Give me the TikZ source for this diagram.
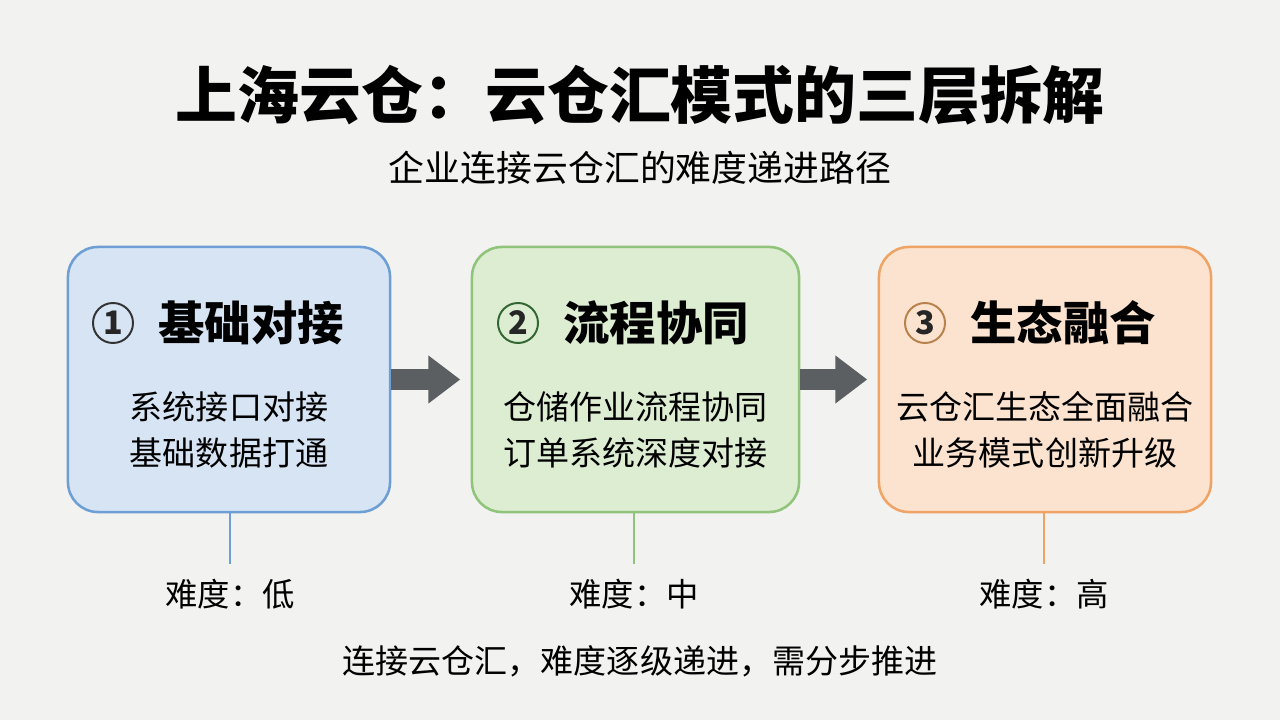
\documentclass[tikz,border=0pt]{standalone}
\usepackage{fontspec}
\setmainfont{Noto Sans CJK SC}
\usepackage{xcolor}
\usetikzlibrary{arrows.meta,positioning}

\definecolor{paper}{HTML}{F2F2F1}
\definecolor{arrowgray}{HTML}{5B5F62}
\definecolor{blueline}{HTML}{6E9FD4}
\definecolor{bluefill}{HTML}{D6E4F4}
\definecolor{greenline}{HTML}{8FC47A}
\definecolor{greenfill}{HTML}{DDEDD2}
\definecolor{orangeline}{HTML}{EFA466}
\definecolor{orangefill}{HTML}{FBE3CF}

\begin{document}
\begin{tikzpicture}[x=0.025cm, y=-0.025cm,
  stage/.style={rounded corners=0.75cm, line width=1.8pt, minimum height=6.625cm},
  numring/.style={circle, line width=1.4pt, minimum size=1cm, inner sep=0pt, text=black!85,
    font=\fontsize{23}{23}\selectfont\bfseries},
  head/.style={inner sep=0pt, anchor=west, font=\fontsize{33}{33}\selectfont\bfseries},
  body/.style={align=center, font=\fontsize{23.5}{32.7}\selectfont},
  level/.style={inner xsep=0pt, inner ysep=0.37cm, font=\fontsize{23}{23}\selectfont},
  flow/.style={line width=0.5cm, draw=arrowgray, -{Triangle[length=0.8cm,width=1.15cm]}, shorten >=0.26cm},
  tick/.style={line width=1.5pt}
]
\fill[paper] (0,0) rectangle (1280,720);
\useasboundingbox (0,0) rectangle (1280,720);

\node[font=\fontsize{44}{44}\selectfont\bfseries] (title) at (640,95) {上海云仓：云仓汇模式的三层拆解};
\node[font=\fontsize{25.5}{25.5}\selectfont] (sub) at (640,168) {企业连接云仓汇的难度递进路径};

% three stages
\node[stage, draw=blueline, fill=bluefill, minimum width=8.05cm] (b1) at (229,379.5) {};
\node[stage, draw=greenline, fill=greenfill, minimum width=8.175cm] (b2) at (635.5,379.5) {};
\node[stage, draw=orangeline, fill=orangefill, minimum width=8.3cm] (b3) at (1045,379.5) {};

\node[numring, draw=black!80] (n1) at (113,323) {1};
\node[head, right=0.6cm of n1] (h1) {基础对接};
\node[numring, draw=green!25!black!80] (n2) at (518,323) {2};
\node[head, right=0.6cm of n2] (h2) {流程协同};
\node[numring, draw=orange!60!black!70] (n3) at (925,323) {3};
\node[head, right=0.6cm of n3] (h3) {生态融合};

\node[body] (t1) at (229,430) {系统接口对接\\基础数据打通};
\node[body] (t2) at (635.5,430) {仓储作业流程协同\\订单系统深度对接};
\node[body] (t3) at (1045,430) {云仓汇生态全面融合\\业务模式创新升级};

\draw[flow] (b1.east) -- (b2.west);
\draw[flow] (b2.east) -- (b3.west);

% difficulty
\node[level] (d1) at (230,594) {难度：低};
\node[level] (d2) at (634,594) {难度：中};
\node[level] (d3) at (1044,594) {难度：高};
\draw[tick, blueline] (d1.north |- b1.south) -- (d1.north);
\draw[tick, greenline] (d2.north |- b2.south) -- (d2.north);
\draw[tick, orangeline] (d3.north |- b3.south) -- (d3.north);

\node[font=\fontsize{23.5}{23.5}\selectfont] (note) at (640,661) {连接云仓汇，难度逐级递进，需分步推进};
\end{tikzpicture}
\end{document}
